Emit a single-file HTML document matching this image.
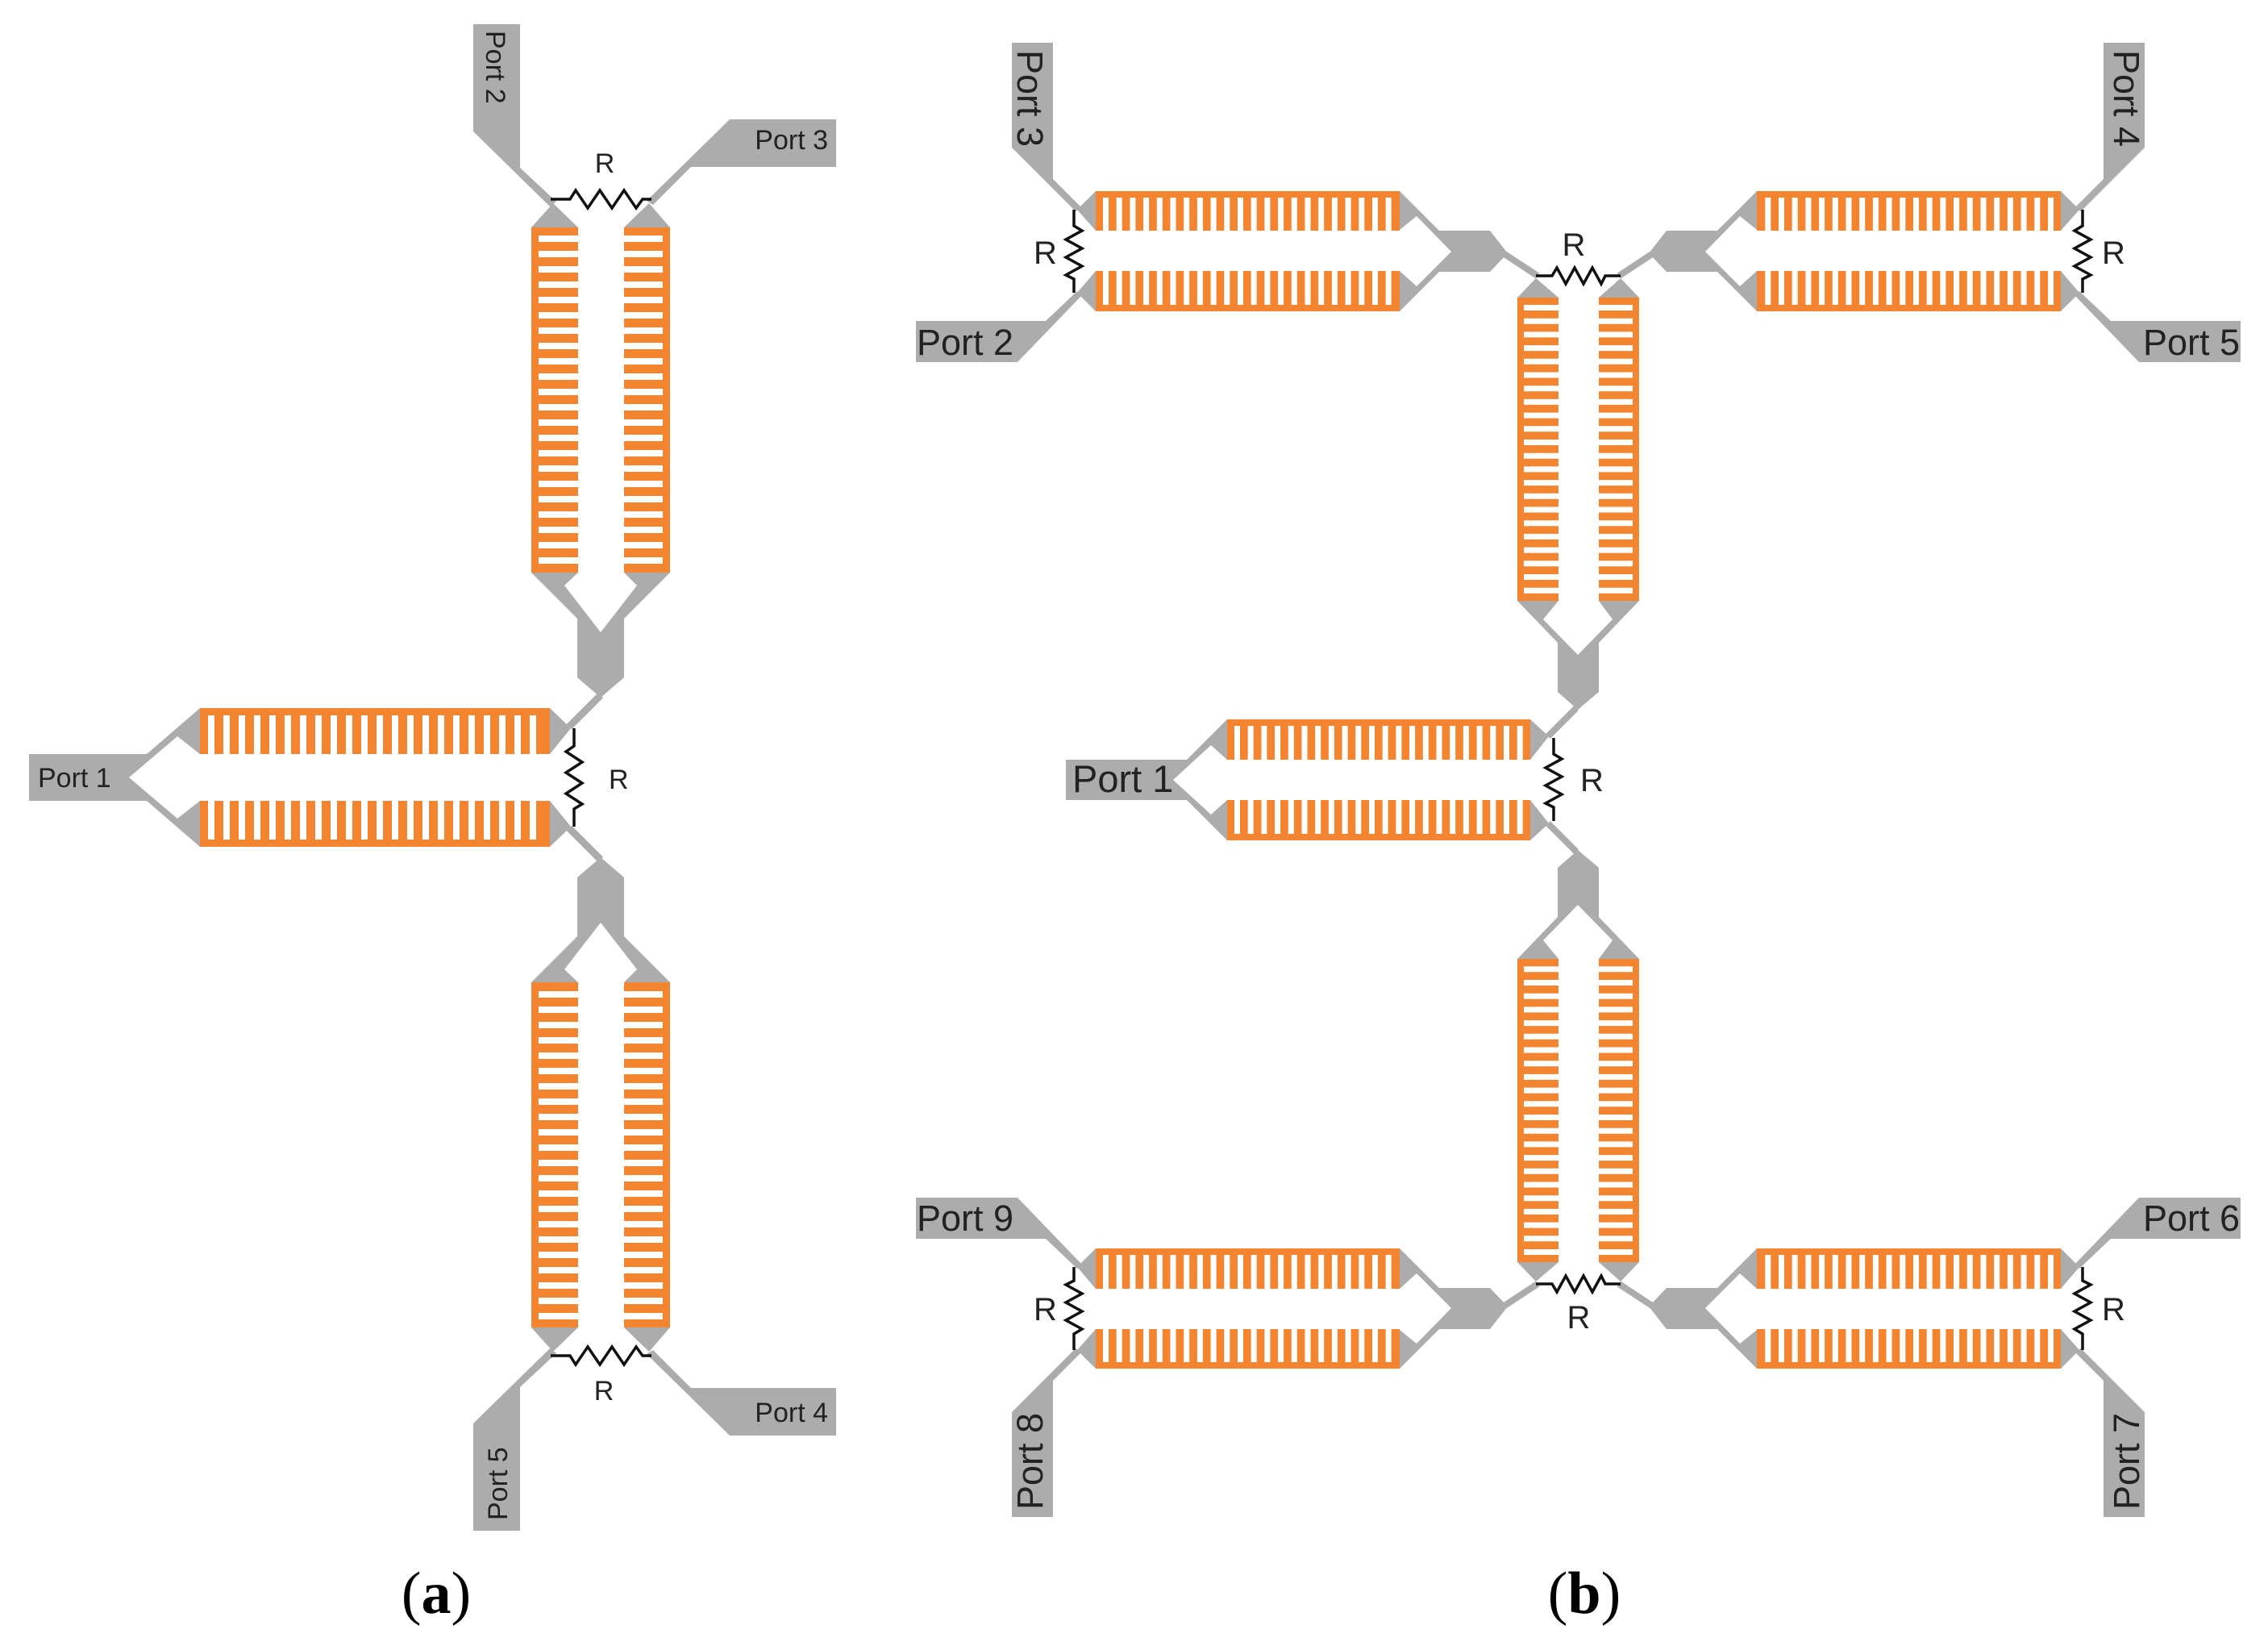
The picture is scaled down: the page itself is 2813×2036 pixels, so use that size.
<!DOCTYPE html>
<html><head><meta charset="utf-8"><style>
html,body{margin:0;padding:0;background:#fff;}
svg{display:block}
text{font-family:"Liberation Sans",sans-serif;fill:#222}
</style></head><body>
<svg width="2813" height="2036" viewBox="0 0 2813 2036" xmlns="http://www.w3.org/2000/svg">
<defs>
<g id="A">
  <g fill="#acacac">
    <polygon points="587,30 645,30 645,208 690,250 682,256 587,163"/>
    <polygon points="905,148 1037,148 1037,207 857,207 810,254 802,249"/>
    <polygon points="659,282 717,282 686,252"/>
    <polygon points="774,282 831,282 805,252"/>
    <polygon points="659,710 717,710 700,726 745,784 790,726 774,710 831,710 774,767 774,840 745,865 716,840 716,767"/>
  </g>
  <line x1="745" y1="862" x2="706" y2="901" stroke="#acacac" stroke-width="9"/>
  <rect x="659" y="282" width="58" height="428" fill="#f38530"/>
  <line x1="692.5" y1="292" x2="692.5" y2="702" stroke="#fff" stroke-width="49" stroke-dasharray="8 11"/>
  <rect x="774" y="282" width="57" height="428" fill="#f38530"/>
  <line x1="798" y1="292" x2="798" y2="702" stroke="#fff" stroke-width="48" stroke-dasharray="8 11"/>
  <path d="M683,247 H707 L714,236 L729,258 L744,236 L759,258 L774,236 L789,258 L797,247 H808" fill="none" stroke="#111" stroke-width="3.5"/>
</g>
<g id="Q">
  <g fill="#acacac">
    <polygon points="1255,53 1306,53 1306,222 1342,258 1334,262 1255,183"/>
    <polygon points="1136,398 1297,398 1336,361 1342,366 1262,449 1136,449"/>
    <polygon points="1359,237 1359,286 1336,260"/>
    <polygon points="1359,336 1359,386 1336,363"/>
    <polygon points="1736,237 1785,286 1848,286 1870,314 1848,337 1785,337 1736,386 1736,336 1757,355 1800,312 1757,268 1736,285"/>
  </g>
  <line x1="1866" y1="315" x2="1907" y2="342" stroke="#acacac" stroke-width="8"/>
  <rect x="1359" y="237" width="377" height="49" fill="#f38530"/>
  <line x1="1368" y1="265.5" x2="1730" y2="265.5" stroke="#fff" stroke-width="41" stroke-dasharray="7 9.7"/>
  <rect x="1359" y="336" width="377" height="50" fill="#f38530"/>
  <line x1="1368" y1="357" x2="1730" y2="357" stroke="#fff" stroke-width="42" stroke-dasharray="7 9.7"/>
  <path d="M1332,260 V280 L1342,286 L1322,297 L1342,308 L1322,319 L1342,330 L1322,341 L1332,346 V363" fill="none" stroke="#111" stroke-width="3.5"/>
</g>
<g id="C">
  <g fill="#acacac">
    <polygon points="1882,369 1933,369 1905,345"/>
    <polygon points="1983,369 2033,369 2010,345"/>
    <polygon points="1882,745 1933,745 1914,768 1957,812 2000,768 1983,745 2033,745 1983,797 1983,858 1957,880 1932,858 1932,797"/>
  </g>
  <line x1="1955" y1="878" x2="1920" y2="913" stroke="#acacac" stroke-width="8"/>
  <rect x="1882" y="369" width="51" height="376" fill="#f38530"/>
  <line x1="1911.5" y1="378" x2="1911.5" y2="738" stroke="#fff" stroke-width="43" stroke-dasharray="7 9.7"/>
  <rect x="1983" y="369" width="50" height="376" fill="#f38530"/>
  <line x1="2004" y1="378" x2="2004" y2="738" stroke="#fff" stroke-width="42" stroke-dasharray="7 9.7"/>
  <path d="M1905,342 H1925 L1931,332 L1942,352 L1953,332 L1964,352 L1975,332 L1986,352 L1991,342 H2010" fill="none" stroke="#111" stroke-width="3.5"/>
</g>
</defs>

<use href="#A"/>
<use href="#A" transform="translate(0,1928) scale(1,-1)"/>
<polygon fill="#acacac" points="36,935 182,935 248,878 248,935 220,913 160,964 220,1015 248,993 248,1050 182,993 36,993"/>
<polygon fill="#acacac" points="682,878 682,935 708,903"/>
<polygon fill="#acacac" points="682,1050 682,993 708,1025"/>
<rect x="248" y="878" width="434" height="57" fill="#f38530"/>
<line x1="258" y1="911" x2="674" y2="911" stroke="#fff" stroke-width="48" stroke-dasharray="8 11"/>
<rect x="248" y="993" width="434" height="57" fill="#f38530"/>
<line x1="258" y1="1017" x2="674" y2="1017" stroke="#fff" stroke-width="48" stroke-dasharray="8 11"/>
<path d="M712,903 V925 L702,932 L722,945 L702,958 L722,971 L702,984 L722,997 L712,1003 V1025" fill="none" stroke="#111" stroke-width="3.5"/>

<text x="47" y="976" font-size="34">Port 1</text>
<text transform="translate(603,38) rotate(90)" font-size="34">Port 2</text>
<text x="1027" y="185" font-size="34" text-anchor="end">Port 3</text>
<text x="1027" y="1763" font-size="34" text-anchor="end">Port 4</text>
<text transform="translate(629,1885) rotate(-90)" font-size="34">Port 5</text>
<text x="750" y="214" font-size="34" text-anchor="middle">R</text>
<text x="755" y="978" font-size="34">R</text>
<text x="749" y="1736" font-size="34" text-anchor="middle">R</text>

<use href="#Q"/>
<use href="#Q" transform="translate(3915,0) scale(-1,1)"/>
<use href="#Q" transform="translate(0,1934) scale(1,-1)"/>
<use href="#Q" transform="translate(3915,1934) scale(-1,-1)"/>
<use href="#C"/>
<use href="#C" transform="translate(0,1934) scale(1,-1)"/>
<polygon fill="#acacac" points="1322,942 1472,942 1522,892 1522,942 1502,924 1455,967 1502,1010 1522,992 1522,1042 1472,992 1322,992"/>
<polygon fill="#acacac" points="1898,892 1898,942 1921,913"/>
<polygon fill="#acacac" points="1898,1042 1898,992 1921,1021"/>
<rect x="1522" y="892" width="376" height="50" fill="#f38530"/>
<line x1="1531" y1="921" x2="1892" y2="921" stroke="#fff" stroke-width="42" stroke-dasharray="7 9.7"/>
<rect x="1522" y="992" width="376" height="50" fill="#f38530"/>
<line x1="1531" y1="1013" x2="1892" y2="1013" stroke="#fff" stroke-width="42" stroke-dasharray="7 9.7"/>
<path d="M1927,915 V935 L1937,941 L1917,952 L1937,963 L1917,974 L1937,985 L1917,996 L1927,1001 V1018" fill="none" stroke="#111" stroke-width="3.5"/>

<text x="1330" y="982" font-size="47">Port 1</text>
<text x="1137" y="440" font-size="45">Port 2</text>
<text transform="translate(1262,62) rotate(90)" font-size="45">Port 3</text>
<text transform="translate(2622,62) rotate(90)" font-size="45">Port 4</text>
<text x="2778" y="440" font-size="45" text-anchor="end">Port 5</text>
<text x="2778" y="1526" font-size="45" text-anchor="end">Port 6</text>
<text transform="translate(2653,1872) rotate(-90)" font-size="45">Port 7</text>
<text transform="translate(1293,1872) rotate(-90)" font-size="45">Port 8</text>
<text x="1137" y="1526" font-size="45">Port 9</text>
<text x="1282" y="327" font-size="40">R</text>
<text x="1282" y="1637" font-size="40">R</text>
<text x="2607" y="327" font-size="40">R</text>
<text x="2607" y="1637" font-size="40">R</text>
<text x="1952" y="317" font-size="40" text-anchor="middle">R</text>
<text x="1958" y="1647" font-size="40" text-anchor="middle">R</text>
<text x="1960" y="981" font-size="40">R</text>

<text x="541" y="2000" font-size="74" text-anchor="middle" style="font-family:'Liberation Serif',serif;fill:#000">(<tspan font-weight="bold">a</tspan>)</text>
<text x="1965" y="2000" font-size="74" text-anchor="middle" style="font-family:'Liberation Serif',serif;fill:#000">(<tspan font-weight="bold">b</tspan>)</text>
</svg>
</body></html>
